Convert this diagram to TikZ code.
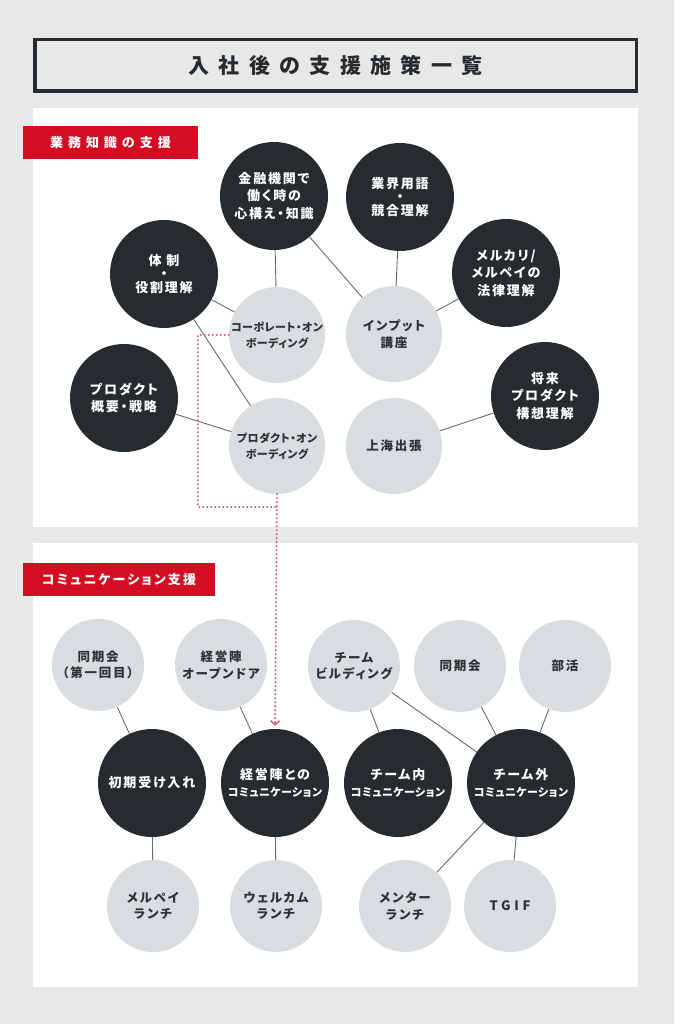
\documentclass[tikz,border=0pt]{standalone}
\usepackage{fontspec}
\usetikzlibrary{arrows.meta}
\newfontfamily\ftitle{Noto Sans CJK JP}[LetterSpace=45,RawFeature=+palt]
\newfontfamily\flabA{Noto Sans CJK JP}[LetterSpace=38]
\newfontfamily\flabB{Noto Sans CJK JP}[LetterSpace=16,RawFeature=+palt]
\newfontfamily\fcirc{Noto Sans CJK JP}[LetterSpace=14,RawFeature=+palt]
\newfontfamily\fcircN{Noto Sans CJK JP}[LetterSpace=4,RawFeature=+palt]
\newfontfamily\flatinw{Noto Sans CJK JP}[LetterSpace=28]
\newcommand\cmline[1]{{\fcircN\bfseries\fontsize{11}{16}\selectfont #1}}
\newcommand\smline[1]{{\fcircN\bfseries\fontsize{11}{14}\selectfont #1}}
\definecolor{bg}{HTML}{E8E8E8}
\definecolor{dark}{HTML}{262B30}
\definecolor{light}{HTML}{D9DDE0}
\definecolor{redl}{HTML}{D40D23}
\definecolor{lnc}{HTML}{6A6A6A}
\definecolor{dotc}{HTML}{DC5F74}
\definecolor{txt}{HTML}{2E3236}
\begin{document}
\begin{tikzpicture}[x=1pt,y=-1pt,
  dk/.style={circle,fill=dark,text=white,inner sep=0pt,minimum size=108pt,align=center,
    font=\fcirc\bfseries\fontsize{13}{17.5}\selectfont},
  lt/.style={circle,fill=light,text=txt,inner sep=0pt,minimum size=#1,align=center,
    font=\fcirc\bfseries\fontsize{12.5}{16.5}\selectfont},
  lt/.default=96pt,
  ln/.style={draw=lnc,line width=0.9pt},
  dots/.style={draw=dotc,line width=2.3pt,line cap=round,dash pattern=on 0pt off 4pt},
  redlab/.style={fill=redl,text=white,inner sep=0pt,minimum height=33pt}
]
\useasboundingbox (0,0) rectangle (674,1024);
\fill[bg] (0,0) rectangle (674,1024);
% title
\node[draw=dark,line width=3.5pt,fill=bg,minimum width=601.5pt,minimum height=51.5pt,inner sep=0pt,
  text=dark,font=\ftitle\bfseries\fontsize{21}{25}\selectfont] (title) at (335.5,65.5) {入社後の支援施策一覧};
% panels
\fill[white] (33,108) rectangle (638,527);
\fill[white] (33,543) rectangle (638,987);
% labels
\node[redlab,minimum width=175pt,font=\flabA\bfseries\fontsize{13}{15}\selectfont] (lab1) at (110.5,142.5) {業務知識の支援};
\node[redlab,minimum width=192pt,font=\flabB\bfseries\fontsize{13}{15}\selectfont] (lab2) at (119,579.5) {コミュニケーション支援};
% top nodes
\node[dk] (fin) at (274,196) {金融機関で\\働く時の\\心構え・知識};
\node[dk] (gyo) at (400,197) {業界用語\\[-4pt]・\\[-4pt]競合理解};
\node[dk] (tai) at (164,274) {体 制\\[-4pt]・\\[-4pt]役割理解};
\node[dk] (mer) at (506,273) {メルカリ/\\メルペイの\\法律理解};
\node[lt] (corp) at (277,335) {\smline{コーポレート・オン}\\\smline{ボーディング}};
\node[lt] (inp) at (394,334) {インプット\\講座};
\node[dk] (gai) at (124,398) {プロダクト\\概要・戦略};
\node[dk] (sho) at (545,396) {将来\\プロダクト\\構想理解};
\node[lt] (prod) at (277,446) {\smline{プロダクト・オン}\\\smline{ボーディング}};
\node[lt] (sha) at (394,446) {上海出張};
% top connectors
\draw[ln] (fin) -- (corp);
\draw[ln] (fin) -- (inp);
\draw[ln] (gyo) -- (inp);
\draw[ln] (mer) -- (inp);
\draw[ln] (tai) -- (corp);
\draw[ln] (tai) -- (prod);
\draw[ln] (gai) -- (prod);
\draw[ln] (sho) -- (sha);
% bottom nodes
\node[lt=92pt] (dk1) at (98,665) {同期会\\（第一回目）};
\node[lt=92pt] (op) at (221,665) {経営陣\\オープンドア};
\node[lt=92pt] (tb) at (354,666) {チーム\\ビルディング};
\node[lt=92pt] (dk2) at (460,666) {同期会};
\node[lt=92pt] (bu) at (565,666) {部活};
\node[dk] (sk) at (152,783) {初期受け入れ};
\node[dk] (kc) at (275,783) {経営陣との\\\cmline{コミュニケーション}};
\node[dk] (tn) at (398,783) {チーム内\\\cmline{コミュニケーション}};
\node[dk] (tg) at (521,783) {チーム外\\\cmline{コミュニケーション}};
\node[lt=92pt] (ml) at (153,906) {メルペイ\\ランチ};
\node[lt=92pt] (wl) at (276,906) {ウェルカム\\ランチ};
\node[lt=92pt] (mt) at (405,906) {メンター\\ランチ};
\node[lt=92pt,font=\flatinw\bfseries\fontsize{13}{16}\selectfont] (tgif) at (510,906) {TGIF};
% bottom connectors
\draw[ln] (dk1) -- (sk);
\draw[ln] (op) -- (kc);
\draw[ln] (tb) -- (tn);
\draw[ln] (tb) -- (tg);
\draw[ln] (dk2) -- (tg);
\draw[ln] (bu) -- (tg);
\draw[ln] (sk) -- (ml);
\draw[ln] (kc) -- (wl);
\draw[ln] (tg) -- (mt);
\draw[ln] (tg) -- (tgif);
% dotted link
\coordinate (dA) at (198,507);
\coordinate (dB) at (277,507);
\draw[dots] (corp.west) -| (dA) -- (dB);
\draw[dots,-{Straight Barb[length=4pt,width=9pt,line width=1.6pt]},shorten >=3pt] (prod.south) -- (kc.north);
\end{tikzpicture}
\end{document}
